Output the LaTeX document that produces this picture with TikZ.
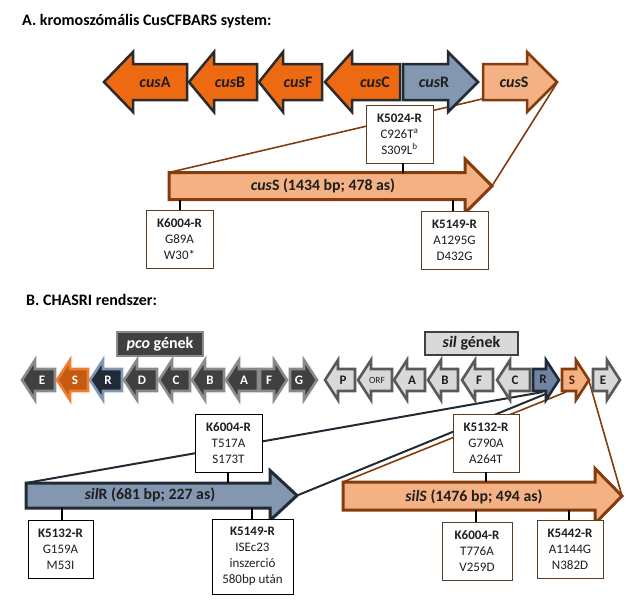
\documentclass[tikz,border=0pt]{standalone}
\usepackage{fontspec}
\setmainfont{Carlito}
\definecolor{cusorange}{HTML}{EE6A12}
\definecolor{darkline}{HTML}{2B2B2B}
\definecolor{slate}{HTML}{8497B0}
\definecolor{slated}{HTML}{6E84A3}
\definecolor{navy}{HTML}{222A35}
\definecolor{peach}{HTML}{F4B183}
\definecolor{brownb}{HTML}{843C0C}
\definecolor{boxb}{HTML}{5C3D23}
\definecolor{gdark}{HTML}{404040}
\definecolor{ggray}{HTML}{8A8A8A}
\definecolor{glight}{HTML}{D9D9D9}
\definecolor{gmid}{HTML}{595959}
\definecolor{pcosf}{HTML}{C55A11}
\definecolor{pcosb}{HTML}{ED7D31}
\definecolor{txt}{HTML}{1E1E1E}
\newcommand{\LArr}[8]{%
  \draw[#1] (#3,#4-#5) -- (#2+#7,#4-#5) -- (#2+#7,#4-#6) -- (#2,#4) -- (#2+#7,#4+#6) -- (#2+#7,#4+#5) -- (#3,#4+#5) -- cycle;
  \coordinate (#8-tip) at (#2,#4);
  \coordinate (#8-tr) at (#3,#4-#5);
  \coordinate (#8-br) at (#3,#4+#5);}
\newcommand{\RArr}[8]{%
  \draw[#1] (#2,#4-#5) -- (#3-#7,#4-#5) -- (#3-#7,#4-#6) -- (#3,#4) -- (#3-#7,#4+#6) -- (#3-#7,#4+#5) -- (#2,#4+#5) -- cycle;
  \coordinate (#8-tip) at (#3,#4);
  \coordinate (#8-tl) at (#2,#4-#5);
  \coordinate (#8-bl) at (#2,#4+#5);}
\tikzset{
  cusor/.style={fill=cusorange, draw=darkline, line width=2.5pt, line join=miter},
  cusr/.style={fill=slate, draw=navy, line width=2.5pt, line join=miter},
  cuss/.style={fill=peach, draw=brownb, line width=2.5pt, line join=miter},
  bigs/.style={fill=peach, draw=brownb, line width=3pt, line join=miter},
  bigr/.style={fill=slate, draw=navy, line width=3pt, line join=miter},
  pcog/.style={fill=gdark, draw=ggray, line width=2.6pt, line join=miter},
  pcos/.style={fill=pcosf, draw=pcosb, line width=2.6pt, line join=miter},
  pcor/.style={fill=navy, draw=slate, line width=2.6pt, line join=miter},
  silg/.style={fill=glight, draw=gmid, line width=2.6pt, line join=miter},
  silr/.style={fill=slated, draw=navy, line width=2.6pt, line join=miter},
  sils/.style={fill=peach, draw=brownb, line width=2.6pt, line join=miter},
  glbl/.style={font=\fontsize{16}{18}\selectfont\bfseries, text=txt, inner sep=0pt},
  wlbl/.style={font=\fontsize{13}{15}\selectfont\bfseries, text=white, inner sep=0pt},
  klbl/.style={font=\fontsize{13}{15}\selectfont\bfseries, text=txt, inner sep=0pt},
  biglbl/.style={font=\fontsize{15.8}{18}\selectfont\bfseries, text=txt, inner sep=0pt},
  title/.style={font=\fontsize{16}{19}\selectfont\bfseries, text=black, anchor=west, inner sep=0pt},
  mbox/.style={draw=boxb, fill=white, line width=0.9pt, align=center, inner sep=0pt,
    minimum width=67, minimum height=58, text=txt, font=\fontsize{13}{16}\selectfont},
  kbox/.style={mbox, draw=black},
  tick/.style={draw=black, line width=2pt},
  bline/.style={draw=brownb, line width=1.6pt},
  nline/.style={draw=navy, line width=2pt},
}
\begin{document}
\begin{tikzpicture}[x=1pt, y=-1pt]
\useasboundingbox (0,0) rectangle (643,605);
% ---------- A ----------
\node[title] (tA) at (22,21) {A. kromoszómális CusCFBARS system:};
% connector end coordinates
\coordinate (bigcus-tl) at (169,172.5);
\coordinate (bigcus-tip) at (492,186);
\coordinate (cusSg-bl) at (482,99);
\coordinate (cusSg-tip) at (557,83);
\draw[bline] (bigcus-tl) -- (cusSg-bl);
\draw[bline] (cusSg-tip) -- (bigcus-tip);
% gene arrows
\LArr{cusor}{104}{187}{82}{18}{30}{29}{cusA}
\LArr{cusor}{189}{257}{82}{18}{30}{25}{cusB}
\LArr{cusor}{259}{322}{82}{18}{30}{24}{cusF}
\LArr{cusor}{325}{400}{82}{18}{30}{27}{cusC}
\RArr{cusr}{403}{478}{82}{18}{30}{30}{cusR}
\RArr{cuss}{483}{557}{82}{18}{30}{30}{cusS}
\node[glbl] (lcusA) at (155,82) {\textit{cus}A};
\node[glbl] (lcusB) at (230,82) {\textit{cus}B};
\node[glbl] (lcusF) at (298,82) {\textit{cus}F};
\node[glbl] (lcusC) at (375,82) {\textit{cus}C};
\node[glbl] (lcusR) at (434,82) {\textit{cus}R};
\node[glbl] (lcusS) at (514,82) {\textit{cus}S};
% big cusS
\RArr{bigs}{169}{492}{186}{13.5}{27}{27}{bigcus}
\node[biglbl] (lbigcus) at (323,186) {\textit{cus}S (1434 bp; 478 as)};
% boxes
\coordinate (t1) at (403,172.5);
\coordinate (t2) at (180,199.5);
\coordinate (t3) at (453,199.5);
\node[mbox] (b1) at (399.5,134) {\textbf{K5024-R}\\C926T\textsuperscript{a}\\S309L\textsuperscript{b}};
\node[mbox] (b2) at (179.5,239.5) {\textbf{K6004-R}\\G89A\\W30*};
\node[mbox] (b3) at (454.5,240) {\textbf{K5149-R}\\A1295G\\D432G};
\draw[tick] (b1.south -| t1) -- (t1);
\draw[tick] (b2.north -| t2) -- (t2);
\draw[tick] (b3.north -| t3) -- (t3);
% ---------- B ----------
\node[title] (tB) at (26,300) {B. CHASRI rendszer:};
\node[draw=ggray, fill=gdark, line width=2pt, minimum width=86, minimum height=24, inner sep=0pt,
  text=white, font=\fontsize{16}{18}\selectfont\bfseries] (pco) at (160,344) {\textit{pco} gének};
\node[draw=gdark, fill=glight, line width=2.6pt, minimum width=93, minimum height=23, inner sep=0pt,
  text=txt, font=\fontsize{16}{18}\selectfont\bfseries] (sil) at (471.5,343.5) {\textit{sil} gének};
% connector coordinates
\coordinate (silRg-b1) at (543,392);
\coordinate (silRg-b2) at (548,393);
\coordinate (silSg-b) at (566,392);
\coordinate (bigR-tl) at (26,483);
\coordinate (bigR-tip) at (297,495.5);
\coordinate (bigS-tl) at (343,482);
\coordinate (bigS-tip) at (622,496);
\coordinate (silSg-tip) at (589,381);
\draw[nline] (bigR-tl) -- (silRg-b1);
\draw[nline] (bigR-tip) -- (silRg-b2);
\draw[bline] (bigS-tl) -- (silSg-b);
\draw[bline] (bigS-tip) -- (silSg-tip);
% pco genes
\LArr{pcog}{22}{55}{380}{11}{20}{13}{pE}
\LArr{pcos}{57}{88}{380}{11}{20}{13}{pS}
\LArr{pcor}{90}{122}{380}{11}{20}{13}{pR}
\LArr{pcog}{124}{157}{380}{11}{20}{13}{pD}
\LArr{pcog}{159}{190}{380}{11}{20}{13}{pC}
\LArr{pcog}{192}{224}{380}{11}{20}{13}{pB}
\LArr{pcog}{226}{258}{380}{11}{20}{13}{pA}
\RArr{pcog}{260}{287}{380}{11}{20}{13}{pF}
\RArr{pcog}{290}{317}{380}{11}{20}{13}{pG}
\node[wlbl] (lpE) at (42,380) {E};
\node[wlbl] (lpS) at (75,380) {S};
\node[wlbl] (lpR) at (108,380) {R};
\node[wlbl] (lpD) at (142,380) {D};
\node[wlbl] (lpC) at (176,380) {C};
\node[wlbl] (lpB) at (210,380) {B};
\node[wlbl] (lpA) at (244,380) {A};
\node[wlbl] (lpF) at (269,380) {F};
\node[wlbl] (lpG) at (299,380) {G};
% sil genes
\LArr{silg}{325}{355}{380}{11}{20}{13}{sP}
\LArr{silg}{358}{392}{380}{11}{20}{13}{sO}
\LArr{silg}{394}{425}{380}{11}{20}{13}{sA}
\LArr{silg}{428}{458}{380}{11}{20}{13}{sB}
\LArr{silg}{462}{493}{380}{11}{20}{13}{sF}
\LArr{silg}{497}{530}{380}{11}{20}{13}{sC}
\RArr{silr}{533}{559}{380}{11}{20}{13}{sR}
\RArr{sils}{562}{589}{380}{11}{20}{13}{sS}
\RArr{silg}{593}{620}{380}{11}{20}{13}{sE}
\node[klbl] (lsP) at (343,380) {P};
\node[font=\fontsize{9.5}{11}\selectfont, text=txt, inner sep=0pt] (lsO) at (377,380) {ORF};
\node[klbl] (lsA) at (412,380) {A};
\node[klbl] (lsB) at (445,380) {B};
\node[klbl] (lsF) at (479,380) {F};
\node[klbl] (lsC) at (515,380) {C};
\node[klbl] (lsR) at (543,379) {R};
\node[klbl, text=brownb!60!black] (lsS) at (572,380) {S};
\node[klbl] (lsE) at (603,380) {E};
% big silR and silS
\RArr{bigr}{26}{297}{495.5}{12.5}{25}{27}{bigR}
\node[biglbl] (lbigR) at (150,495) {\textit{sil}R (681 bp; 227 as)};
\RArr{bigs}{343}{622}{496}{14}{27.5}{27}{bigS}
\node[biglbl] (lbigS) at (474,497) {\textit{silS} (1476 bp; 494 as)};
% boxes bottom
\coordinate (u1) at (228,483);
\coordinate (u2) at (62,508);
\coordinate (u3) at (252,508);
\coordinate (u4) at (486,482);
\coordinate (u5) at (476,510);
\coordinate (u6) at (569,510);
\node[kbox] (c1) at (228.5,443.5) {\textbf{K6004-R}\\T517A\\S173T};
\node[kbox, minimum width=65] (c2) at (60.5,549) {\textbf{K5132-R}\\G159A\\M53I};
\node[kbox, minimum width=81, minimum height=75] (c3) at (252.5,556.5) {\textbf{K5149-R}\\ISEc23\\inszerció\\580bp után};
\node[mbox, minimum width=66] (c4) at (486,443) {\textbf{K5132-R}\\G790A\\A264T};
\node[mbox, minimum width=70] (c5) at (477,551) {\textbf{K6004-R}\\T776A\\V259D};
\node[mbox, minimum width=66] (c6) at (570,549) {\textbf{K5442-R}\\A1144G\\N382D};
\draw[tick] (c1.south -| u1) -- (u1);
\draw[tick] (c2.north -| u2) -- (u2);
\draw[tick] (c3.north -| u3) -- (u3);
\draw[tick] (c4.south -| u4) -- (u4);
\draw[tick] (c5.north -| u5) -- (u5);
\draw[tick] (c6.north -| u6) -- (u6);
\end{tikzpicture}
\end{document}
